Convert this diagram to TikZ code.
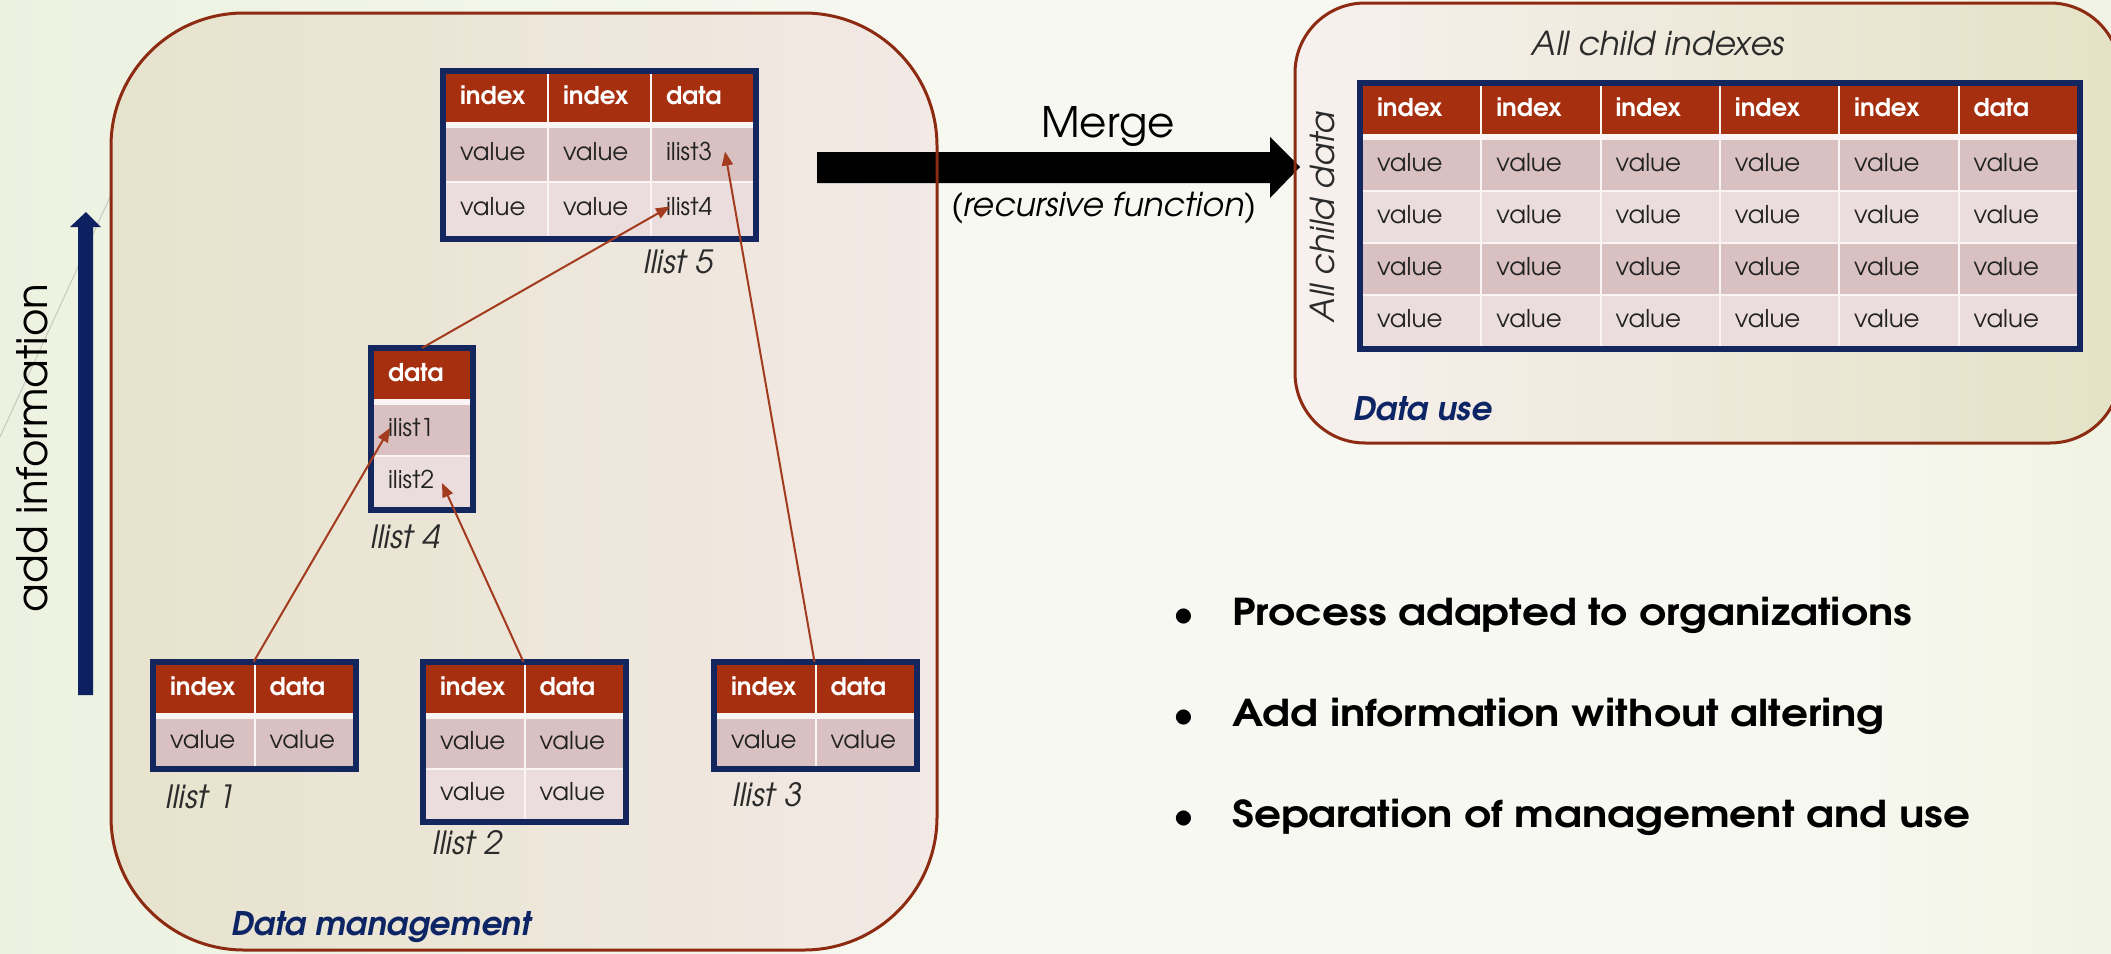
\documentclass[tikz,border=0pt]{standalone}
\usepackage{fontspec}
\setmainfont{TeX Gyre Adventor}
\usetikzlibrary{matrix,arrows.meta,calc}

\definecolor{bgL}{HTML}{E1EACE}
\definecolor{bgM}{HTML}{F7F8F1}
\definecolor{bgR}{HTML}{D8E2B3}
\definecolor{mgL}{HTML}{E6E3CD}
\definecolor{mgR}{HTML}{F3E9E5}
\definecolor{duL}{HTML}{F7F0EE}
\definecolor{duR}{HTML}{E4E2C6}
\definecolor{boxred}{HTML}{8C2B12}
\definecolor{hdr}{HTML}{A62F0F}
\definecolor{rowA}{HTML}{D9C1C1}
\definecolor{rowB}{HTML}{EBDDDD}
\definecolor{gapc}{HTML}{FBF4F4}
\definecolor{navy}{HTML}{14265E}
\definecolor{navytext}{HTML}{0E2565}
\definecolor{arrownavy}{HTML}{0D2160}
\definecolor{linkred}{HTML}{A33B1E}
\definecolor{cellink}{HTML}{222222}
\definecolor{labgray}{HTML}{2B2B2B}

\pgfdeclarehorizontalshading{pagebg}{100bp}{color(0bp)=(bgL); color(48bp)=(bgM); color(68bp)=(bgM); color(100bp)=(bgR)}

\newcommand\setfs[1]{\fontsize{#1pt}{#1pt}\selectfont}

\tikzset{
  tbl/.style={matrix of nodes, draw=navy, line width=6pt, fill=gapc,
    inner sep=3pt, outer sep=0pt, anchor=north west,
    column sep=2pt, row sep=2pt,
    nodes={inner xsep=14pt, inner ysep=0pt, outer sep=0pt, align=left,
      text height=18pt, text depth=6pt, font=\setfs{24.5}, text=cellink, fill=rowA},
    row 1/.style={nodes={fill=hdr, text=white, font=\bfseries\setfs{24.5}, minimum height=48pt}},
    row 2/.style={nodes={fill=rowA}},
    row 3/.style={nodes={fill=rowB}},
    row 4/.style={nodes={fill=rowA}},
    row 5/.style={nodes={fill=rowB}}},
  cellw/.style={nodes={text width=#1pt}},
  rowh/.style={nodes={minimum height=#1pt}},
  link/.style={draw=linkred, line width=2pt, -{Triangle[length=14pt,width=11pt]}},
  lbl/.style={font=\itshape\setfs{32}, text=labgray, inner sep=0pt},
  areatitle/.style={font=\bfseries\itshape\setfs{32.5}, text=navytext, inner sep=0pt, anchor=base west},
  bulletdot/.style={font=\bfseries\setfs{36}, inner sep=0pt, anchor=base},
  bullettext/.style={font=\bfseries\setfs{37}, inner sep=0pt, anchor=base west},
  boxline/.style={draw=boxred, line width=3pt}
}

\newcommand\widetext[1]{\scalebox{1.14}[1]{#1}}

\begin{document}
\begin{tikzpicture}[x=1pt, y=-1pt]
\useasboundingbox (0,0) rectangle (2111,953);
\clip (0,0) rectangle (2111,953);

% page background
\shade[shading=pagebg] (0,0) rectangle (2111,953);
\draw[gray, opacity=0.35, line width=1pt] (160,88) -- (0,437);

% area fills
\shade[rounded corners=133pt, left color=mgL, right color=mgR] (111,13) rectangle (937,950);
\shade[rounded corners=70pt, left color=duL, right color=duR] (1295,3) rectangle (2120,443);

% merge arrow
\fill[black] (817,152) -- (1270,152) -- (1270,137) -- (1300,167) -- (1270,198)
  -- (1270,183) -- (817,183) -- cycle;
\node[font=\setfs{42}, inner sep=0pt] (merge) at (1108,126) {Merge};
\node[font=\itshape\setfs{33}, inner sep=0pt] (rec) at (1104,208) {(recursive function)};

% area outlines
\draw[boxline, rounded corners=133pt] (111,13) rectangle (937,950);
\draw[boxline, rounded corners=70pt] (1295,3) rectangle (2120,443);

% add information arrow
\fill[arrownavy] (78,695) -- (78,227) -- (70,227) -- (86,212) -- (101,227)
  -- (93,227) -- (93,695) -- cycle;
\node[rotate=90, anchor=base, font=\setfs{42}, inner sep=0pt] (addinfo) at (47,448) {add information};

% data management tables
\matrix (l5) [tbl, cellw=73, rowh=53] at (443,71) {
  index & index & data \\[4pt]
  value & value & ilist3 \\
  value & value & ilist4 \\
};
\matrix (l4) [tbl, cellw=68, rowh=50] at (371,348) {
  data \\[4pt]
  ilist1 \\
  ilist2 \\
};
\matrix (l1) [tbl, cellw=69.5, rowh=47] at (153,662) {
  index & data \\[4pt]
  value & value \\
};
\matrix (l2) [tbl, cellw=69.5, rowh=49] at (423,662) {
  index & data \\[4pt]
  value & value \\
  value & value \\
};
\matrix (l3) [tbl, cellw=69.5, rowh=47] at (714,662) {
  index & data \\[4pt]
  value & value \\
};

\node[lbl, anchor=west] (n5) at (643,262) {Ilist 5};
\node[lbl, anchor=west] (n4) at (370,537) {Ilist 4};
\node[lbl, anchor=west] (n1) at (165,797) {Ilist 1};
\node[lbl, anchor=west] (n2) at (432,843) {Ilist 2};
\node[lbl, anchor=west] (n3) at (732,795) {Ilist 3};

% links from child lists to parent cells
\draw[link] (l1-1-1.north east |- l1.north) -- ($(l4-2-1.west)+(16,-2)$);
\draw[link] (l2-1-1.north east |- l2.north) -- ($(l4-3-1.west)+(68,1)$);
\draw[link] (l3-1-1.north east |- l3.north) -- ($(l5-2-3.west)+(73,-3)$);
\draw[link] (l4.north) -- ($(l5-3-3.west)+(18,-3)$);

\node[areatitle] (dm) at (231,935) {Data management};

% data use table
\matrix (ru) [tbl, cellw=89.3, rowh=50] at (1360,83) {
  index & index & index & index & index & data \\[4pt]
  value & value & value & value & value & value \\
  value & value & value & value & value & value \\
  value & value & value & value & value & value \\
  value & value & value & value & value & value \\
};
\node[lbl, font=\itshape\setfs{33}] (ci) at (1658,44) {All child indexes};
\node[lbl, rotate=90, anchor=base, font=\itshape\setfs{33}] (cd) at (1334,217) {All child data};
\node[areatitle] (du) at (1353,420) {Data use};

% key points
\node[bulletdot] (b1) at (1184,625) {\textbullet};
\node[bulletdot] (b2) at (1184,726) {\textbullet};
\node[bulletdot] (b3) at (1184,827) {\textbullet};
\node[bullettext] (t1) at (1232,625) {\widetext{Process adapted to organizations}};
\node[bullettext] (t2) at (1232,726) {\widetext{Add information without altering}};
\node[bullettext] (t3) at (1232,827) {\widetext{Separation of management and use}};
\end{tikzpicture}
\end{document}
